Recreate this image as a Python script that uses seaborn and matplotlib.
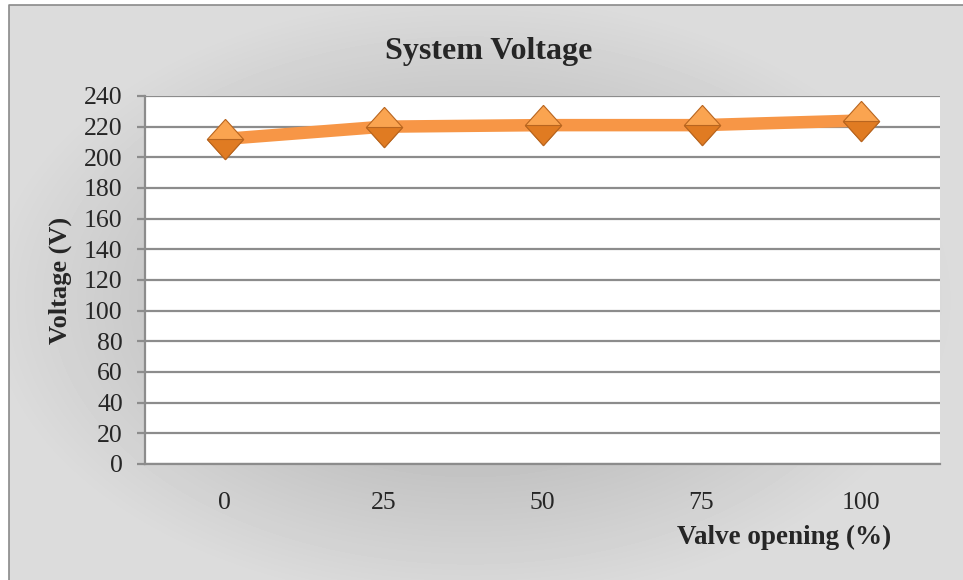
import numpy as np
import pandas as pd
import matplotlib
matplotlib.use('Agg')
import matplotlib.pyplot as plt
from matplotlib.path import Path
import seaborn as sns

# Data
valve_opening = ['0', '25', '50', '75', '100']
voltage = [212, 220, 221, 221, 224]

df = pd.DataFrame({'pos': np.arange(len(valve_opening)), 'voltage': voltage})

sns.set_style('white')
plt.rcParams['font.family'] = ['Liberation Serif', 'DejaVu Serif']

fig = plt.figure(figsize=(9.63, 5.80), dpi=100)
W, H = 963, 580

# grey radial background, thin border only on top and left (chart is cropped)
bg = fig.add_axes([0, 0, 1, 1], zorder=-5)
yy, xx = np.mgrid[0:H, 0:W]
r = np.sqrt(((xx - 470) / 540.0) ** 2 + ((yy - 300) / 340.0) ** 2)
shade = np.clip(164 + 62 * r, 164, 220) / 255.0
bg.imshow(shade[5:, 9:], cmap='gray', vmin=0, vmax=1,
          extent=[9, W, H, 5], aspect='auto', interpolation='bilinear')
bg.plot([9, 9, W], [H, 5, 5], color='#8a8a8a', lw=1.2)
bg.set_xlim(0, W)
bg.set_ylim(H, 0)
bg.axis('off')

ax = fig.add_axes([145 / W, 116 / H, 795 / W, 368 / H])
ax.set_facecolor('white')

orange = '#F79646'
sns.lineplot(data=df, x='pos', y='voltage', sort=False, color=orange,
             lw=9, ax=ax, zorder=3, solid_capstyle='butt')

# diamond markers: light upper half, darker lower half
diamond = Path([(0, 0.5), (0.45, 0), (0, -0.5), (-0.45, 0), (0, 0.5)])
lower = Path([(-0.45, 0), (0.45, 0), (0, -0.5), (-0.45, 0)])
ax.plot(df['pos'], df['voltage'], ls='none', marker=diamond, ms=29,
        mfc='#FAA450', mec='#B8651F', mew=0.8, zorder=4)
ax.plot(df['pos'], df['voltage'], ls='none', marker=lower, ms=29,
        mfc='#E07B22', mec='#B8651F', mew=0.8, zorder=5)

ax.set_xlim(-0.5, len(valve_opening) - 0.5)
ax.set_ylim(0, 240)
ax.set_yticks(range(0, 241, 20))
ax.set_xticks(df['pos'])
ax.set_xticklabels(valve_opening)

grid_col = '#8c8c8c'
ax.yaxis.grid(True, color=grid_col, lw=1.6)
ax.xaxis.grid(False)
for s in ['top', 'right']:
    ax.spines[s].set_visible(False)
for s in ['left', 'bottom']:
    ax.spines[s].set_color(grid_col)
    ax.spines[s].set_linewidth(1.6)

ax.tick_params(axis='y', length=6, width=1.6, color=grid_col, labelsize=18.5,
               pad=10, left=True)
ax.tick_params(axis='x', length=0, labelsize=18.5, pad=20)

ax.set_xlabel('Valve opening (%)', fontsize=19.5, fontweight='bold',
              ha='right', va='center')
ax.xaxis.set_label_coords((891 - 145) / 795, (464 - 537) / 368)
ax.set_ylabel('Voltage (V)', fontsize=19, fontweight='bold', va='center')
ax.yaxis.set_label_coords((60 - 145) / 795, 0.5)

fig.text(489 / W, 1 - 52 / H, 'System Voltage', fontsize=23,
         fontweight='bold', ha='center', va='center')

fig.savefig('out.png', dpi=100)
